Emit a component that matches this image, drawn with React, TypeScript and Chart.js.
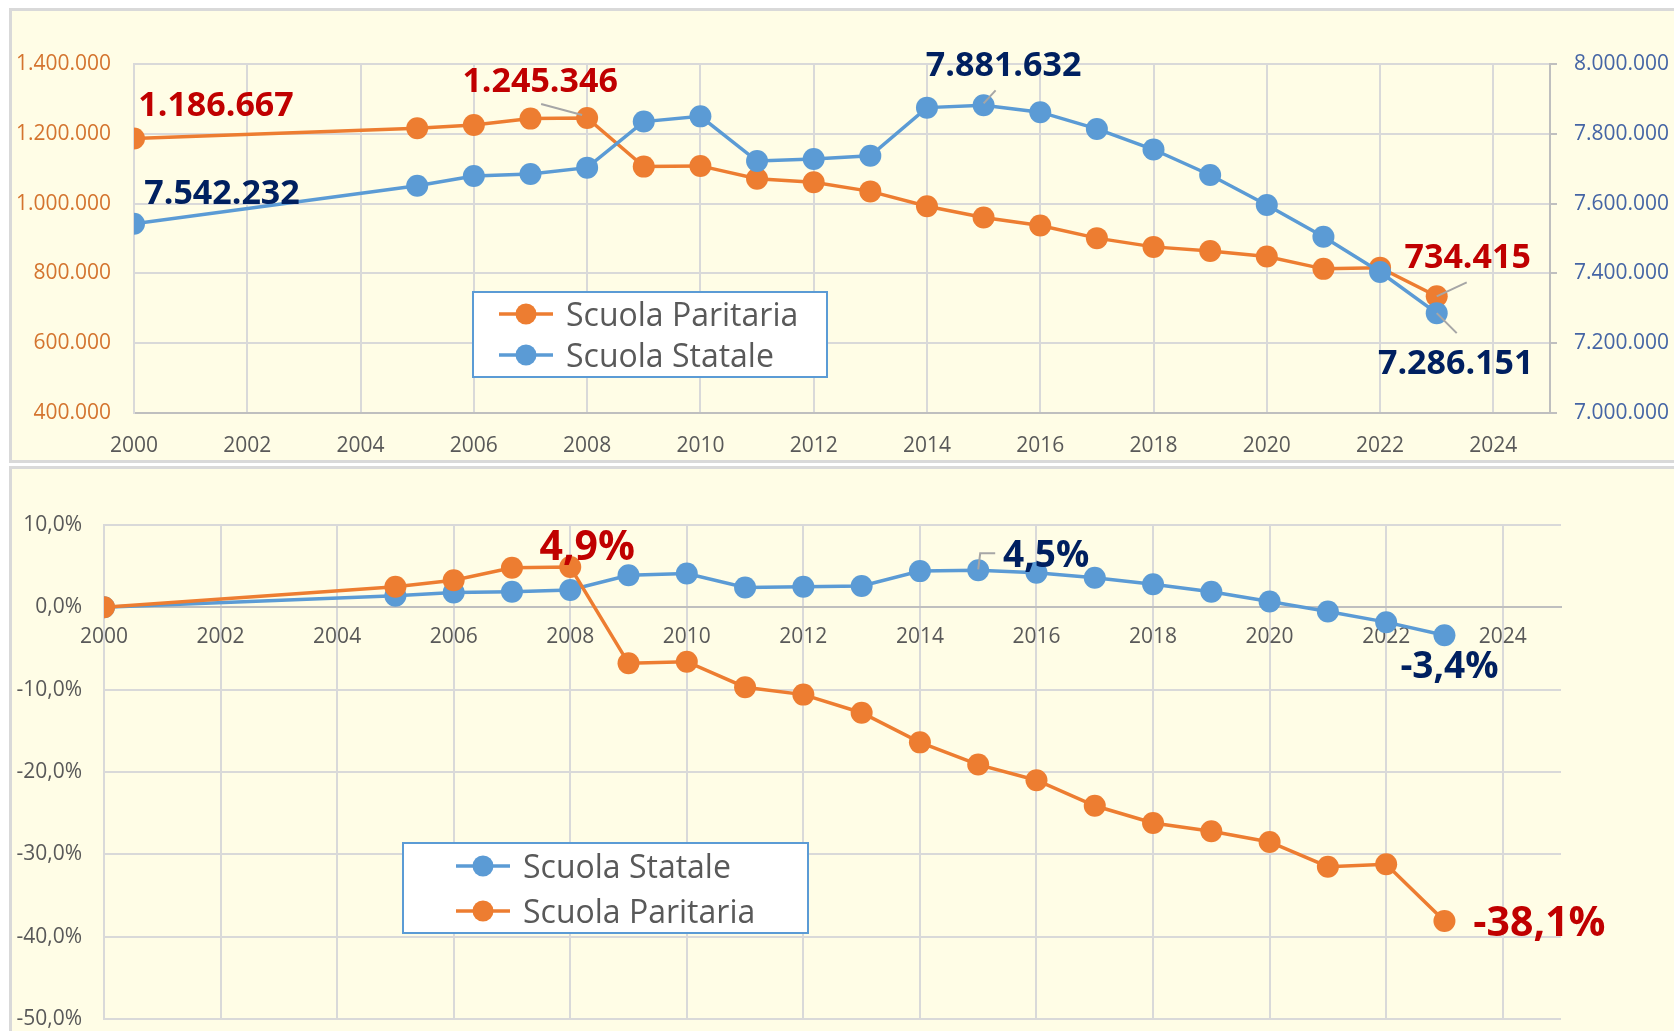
import React, { useEffect, useRef } from 'react';
import { Chart, registerables } from 'chart.js';
Chart.register(...registerables);

// ---------- DATA ----------
const years = [2000, 2005, 2006, 2007, 2008, 2009, 2010, 2011, 2012, 2013, 2014, 2015, 2016, 2017, 2018, 2019, 2020, 2021, 2022, 2023];
const paritaria = [1186667, 1216000, 1225000, 1243500, 1245346, 1106000, 1108000, 1071000, 1061000, 1035000, 992500, 960000, 937000, 901000, 876000, 864000, 848500, 813000, 816500, 734415];
const statale = [7542232, 7651000, 7679000, 7685000, 7703000, 7835000, 7850000, 7722000, 7728000, 7737000, 7875000, 7881632, 7862000, 7814000, 7755000, 7682000, 7596000, 7505000, 7404000, 7286151];
const paritariaPct = [0, 2.5, 3.3, 4.8, 4.9, -6.8, -6.6, -9.7, -10.6, -12.8, -16.4, -19.1, -21.0, -24.1, -26.2, -27.2, -28.5, -31.5, -31.2, -38.1];
const statalePct = [0, 1.4, 1.8, 1.9, 2.1, 3.9, 4.1, 2.4, 2.5, 2.6, 4.4, 4.5, 4.2, 3.6, 2.8, 1.9, 0.7, -0.5, -1.8, -3.4];

const seriesNames = ['Scuola Paritaria', 'Scuola Statale'];
const xRange = [2000, 2025];
const xStep = 2;
const leftRange = [400000, 1400000];
const rightRange = [7000000, 8000000];
const moneyStep = 200000;
const pctRange = [-50, 10];
const pctStep = 10;

// ---------- STYLE ----------
const ORANGE = '#ED7D31';
const BLUE = '#5B9BD5';
const RED = '#C00000';
const NAVY = '#002060';
const GRID = '#D9D9D9';
const AXIS = '#BFBFBF';
const FONT = '"Open Sans", "DejaVu Sans", sans-serif';

const fmtThousands = (v: number) => {
  const s = Math.round(Math.abs(v)).toString();
  const out = s.replace(/\B(?=(\d{3})+(?!\d))/g, '.');
  return (v < 0 ? '-' : '') + out;
};
const fmtPct = (v: number) => v.toFixed(1).replace('.', ',') + '%';

const pts = (vals: number[]) => years.map((y, i) => ({ x: y, y: vals[i] }));

type Lbl = { ds: number; i: number; text: string; color: string; size: number; dx: number; dy: number; leader?: number[][] };

const labelPlugin = (labels: Lbl[]) => ({
  id: 'dataLabels',
  afterDatasetsDraw(chart: any) {
    const ctx = chart.ctx;
    ctx.save();
    for (const l of labels) {
      const p = chart.getDatasetMeta(l.ds).data[l.i];
      if (l.leader) {
        ctx.strokeStyle = '#A6A6A6';
        ctx.lineWidth = 2;
        ctx.beginPath();
        l.leader.forEach(([a, b], k) => (k ? ctx.lineTo(p.x + a, p.y + b) : ctx.moveTo(p.x + a, p.y + b)));
        ctx.stroke();
      }
      ctx.font = `bold ${l.size}px ${FONT}`;
      ctx.fillStyle = l.color;
      ctx.textAlign = 'center';
      ctx.textBaseline = 'alphabetic';
      ctx.fillText(l.text, p.x + l.dx, p.y + l.dy + 0.357 * l.size);
    }
    ctx.restore();
  },
});

type LegItem = { name: string; color: string };
type LegBox = { x: number; y: number; w: number; h: number; lineX: number; textX: number };
const legendPlugin = (box: LegBox, items: LegItem[], rowY: number[]) => ({
  id: 'boxLegend',
  afterDraw(chart: any) {
    const ctx = chart.ctx;
    ctx.save();
    ctx.fillStyle = '#FFFFFF';
    ctx.fillRect(box.x, box.y, box.w, box.h);
    ctx.strokeStyle = BLUE;
    ctx.lineWidth = 2;
    ctx.strokeRect(box.x, box.y, box.w, box.h);
    items.forEach((it, k) => {
      const cy = rowY[k];
      ctx.strokeStyle = it.color;
      ctx.lineWidth = 3.5;
      ctx.beginPath();
      ctx.moveTo(box.x + box.lineX, cy);
      ctx.lineTo(box.x + box.lineX + 54, cy);
      ctx.stroke();
      ctx.fillStyle = it.color;
      ctx.beginPath();
      ctx.arc(box.x + box.lineX + 27, cy, 10.5, 0, Math.PI * 2);
      ctx.fill();
      ctx.fillStyle = '#595959';
      ctx.font = `32px ${FONT}`;
      ctx.textAlign = 'left';
      ctx.textBaseline = 'alphabetic';
      ctx.fillText(it.name, box.x + box.textX, cy + 11.5);
    });
    ctx.restore();
  },
});

const tickFont = { family: FONT, size: 21 };

function TopChart() {
  const ref = useRef<HTMLCanvasElement>(null);
  useEffect(() => {
    const labels: Lbl[] = [
      { ds: 1, i: 0, text: fmtThousands(paritaria[0]), color: RED, size: 34, dx: 82, dy: -35 },
      { ds: 1, i: 4, text: fmtThousands(paritaria[4]), color: RED, size: 34, dx: -47, dy: -38, leader: [[-46, -14], [-5, -3]] },
      { ds: 1, i: 19, text: fmtThousands(paritaria[19]), color: RED, size: 34, dx: 31, dy: -40, leader: [[0, 0], [30, -14]] },
      { ds: 0, i: 0, text: fmtThousands(statale[0]), color: NAVY, size: 34, dx: 88, dy: -32 },
      { ds: 0, i: 11, text: fmtThousands(statale[11]), color: NAVY, size: 34, dx: 20, dy: -41, leader: [[0, -2], [12, -15]] },
      { ds: 0, i: 19, text: fmtThousands(statale[19]), color: NAVY, size: 34, dx: 19, dy: 49, leader: [[0, 0], [20, 20]] },
    ];
    const chart = new Chart(ref.current!, {
      type: 'line',
      data: {
        datasets: [
          { label: seriesNames[1], data: pts(statale), yAxisID: 'yR', borderColor: BLUE, backgroundColor: BLUE, borderWidth: 3.5, pointRadius: 11, pointBorderWidth: 0, pointBackgroundColor: BLUE },
          { label: seriesNames[0], data: pts(paritaria), yAxisID: 'yL', borderColor: ORANGE, backgroundColor: ORANGE, borderWidth: 3.5, pointRadius: 11, pointBorderWidth: 0, pointBackgroundColor: ORANGE },
        ],
      },
      options: {
        responsive: false,
        animation: false,
        devicePixelRatio: 1,
        layout: { padding: { top: 64, left: 0, right: 0, bottom: 0 } },
        plugins: { legend: { display: false }, tooltip: { enabled: false } },
        scales: {
          x: {
            type: 'linear', position: 'bottom', min: xRange[0], max: xRange[1],
            afterFit: (s: any) => { s.height = 52; },
            ticks: { stepSize: xStep, includeBounds: false, callback: (v: any) => String(v), color: '#595959', font: tickFont, padding: 20, maxRotation: 0, autoSkip: false },
            grid: { color: GRID, lineWidth: 2, drawTicks: false },
            border: { color: AXIS, width: 2 },
          },
          yL: {
            type: 'linear', position: 'left', min: leftRange[0], max: leftRange[1],
            afterFit: (s: any) => { s.width = 134; s.paddingTop = 0; s.paddingBottom = 0; },
            ticks: { stepSize: moneyStep, callback: (v: any) => fmtThousands(v), color: '#D4742F', font: tickFont, padding: 23 },
            grid: { color: GRID, lineWidth: 2, drawTicks: false },
            border: { color: GRID, width: 2 },
          },
          yR: {
            type: 'linear', position: 'right', min: rightRange[0], max: rightRange[1],
            afterFit: (s: any) => { s.width = 124; s.paddingTop = 0; s.paddingBottom = 0; },
            ticks: { stepSize: moneyStep, callback: (v: any) => fmtThousands(v), color: '#4565A5', font: tickFont, padding: 17 },
            grid: { drawOnChartArea: false, drawTicks: true, tickLength: 7, color: AXIS, lineWidth: 2 },
            border: { color: AXIS, width: 2 },
          },
        },
      } as any,
      plugins: [
        labelPlugin(labels),
        legendPlugin({ x: 473, y: 292, w: 354, h: 85, lineX: 26, textX: 93 }, [{ name: seriesNames[0], color: ORANGE }, { name: seriesNames[1], color: BLUE }], [314, 355]),
      ],
    });
    return () => chart.destroy();
  }, []);
  return <canvas ref={ref} width={1674} height={465} style={{ position: 'absolute', left: 0, top: 0, width: 1674, height: 465 }} />;
}

function BottomChart() {
  const ref = useRef<HTMLCanvasElement>(null);
  useEffect(() => {
    const labels: Lbl[] = [
      { ds: 0, i: 4, text: fmtPct(paritariaPct[4]), color: RED, size: 41, dx: 17, dy: -22 },
      { ds: 0, i: 19, text: fmtPct(paritariaPct[19]), color: RED, size: 41, dx: 95, dy: 0 },
      { ds: 1, i: 11, text: fmtPct(statalePct[11]), color: NAVY, size: 37, dx: 68, dy: -16, leader: [[0, -1], [2, -17], [17, -17]] },
      { ds: 1, i: 19, text: fmtPct(statalePct[19]), color: NAVY, size: 37, dx: 5, dy: 29 },
    ];
    const chart = new Chart(ref.current!, {
      type: 'line',
      data: {
        datasets: [
          { label: seriesNames[0], data: pts(paritariaPct), borderColor: ORANGE, backgroundColor: ORANGE, borderWidth: 3.5, pointRadius: 11, pointBorderWidth: 0, pointBackgroundColor: ORANGE },
          { label: seriesNames[1], data: pts(statalePct), borderColor: BLUE, backgroundColor: BLUE, borderWidth: 3.5, pointRadius: 11, pointBorderWidth: 0, pointBackgroundColor: BLUE },
        ],
      },
      options: {
        responsive: false,
        animation: false,
        devicePixelRatio: 1,
        layout: { padding: { top: 58, left: 0, right: 113, bottom: 12 } },
        plugins: { legend: { display: false }, tooltip: { enabled: false } },
        scales: {
          x: {
            type: 'linear', position: { y: 0 }, min: xRange[0], max: xRange[1],
            afterFit: (s: any) => { s.height = 0; s.paddingTop = 0; s.paddingBottom = 0; },
            ticks: { stepSize: xStep, includeBounds: false, callback: (v: any) => String(v), color: '#595959', font: tickFont, padding: 17, maxRotation: 0, autoSkip: false },
            grid: { color: GRID, lineWidth: 2, drawTicks: false },
            border: { color: AXIS, width: 2 },
          },
          y: {
            type: 'linear', position: 'left', min: pctRange[0], max: pctRange[1],
            afterFit: (s: any) => { s.width = 104; s.paddingTop = 0; s.paddingBottom = 0; },
            ticks: { stepSize: pctStep, callback: (v: any) => fmtPct(v), color: '#595959', font: tickFont, padding: 22 },
            grid: { color: GRID, lineWidth: 2, drawTicks: false },
            border: { color: GRID, width: 2 },
          },
        },
      } as any,
      plugins: [
        labelPlugin(labels),
        legendPlugin({ x: 403, y: 376, w: 405, h: 90, lineX: 53, textX: 120 }, [{ name: seriesNames[1], color: BLUE }, { name: seriesNames[0], color: ORANGE }], [399, 444]),
      ],
    });
    return () => chart.destroy();
  }, []);
  return <canvas ref={ref} width={1674} height={564} style={{ position: 'absolute', left: 0, top: 467, width: 1674, height: 564 }} />;
}

export default function App() {
  return (
    <div style={{ position: 'fixed', left: 0, top: 0, width: 1674, height: 1031, background: '#FFFFFF', overflow: 'hidden' }}>
      <div style={{ position: 'absolute', left: 9, top: 8, width: 1720, height: 455, boxSizing: 'border-box', border: '3px solid #D9D9D9', background: '#FFFDE6' }} />
      <div style={{ position: 'absolute', left: 9, top: 466, width: 1720, height: 620, boxSizing: 'border-box', border: '3px solid #D9D9D9', background: '#FFFDE6' }} />
      <TopChart />
      <BottomChart />
    </div>
  );
}
